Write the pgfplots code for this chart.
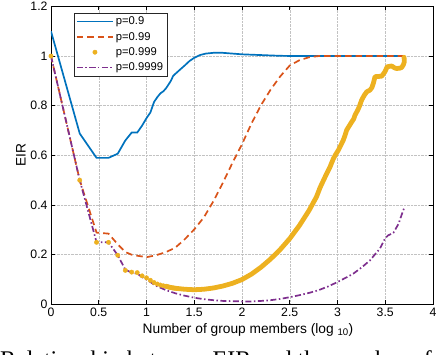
\documentclass[border=0pt]{standalone}
\usepackage{fontspec}
\setmainfont{Liberation Sans}
\newfontfamily\capfont{Liberation Serif}
\usepackage{pgfplots}
\pgfplotsset{compat=1.18}
\usetikzlibrary{calc}
\definecolor{mblue}{rgb}{0,0.447,0.741}
\definecolor{morange}{rgb}{0.85,0.325,0.098}
\definecolor{myellow}{rgb}{0.929,0.694,0.125}
\definecolor{mpurple}{rgb}{0.494,0.184,0.556}
\pgfplotsset{longlegend/.style={legend image code/.code={\draw[mark repeat=2,mark phase=2,##1] plot coordinates {(0bp,0bp) (18bp,0bp) (36bp,0bp)};}}}
\begin{document}
\begin{tikzpicture}
\begin{axis}[
  scale only axis, width=382bp, height=298bp,
  xmin=0, xmax=4, ymin=0, ymax=1.2,
  xtick={0,0.5,1,1.5,2,2.5,3,3.5,4},
  ytick={0,0.2,0.4,0.6,0.8,1,1.2},
  grid=major,
  grid style={densely dotted, black!24, line width=0.5pt},
  tick align=inside, major tick length=4bp,
  axis line style={black, line width=0.6pt},
  tick style={black, line width=0.6pt},
  ticklabel style={font=\fontsize{12.3}{14}\selectfont},
  label style={font=\fontsize{13.8}{16}\selectfont},
  xlabel={Number of group members (log \textsubscript{10})},
  xlabel style={xshift=6bp},
  ylabel={EIR},
  ylabel style={yshift=-2bp},
  /pgf/number format/assume math mode=true,
  legend style={at={(0.060,0.979)}, anchor=north west, draw=black!85, fill=white,
    font=\fontsize{11.3}{13}\selectfont, inner xsep=2bp, inner ysep=2bp, row sep=2bp},
  legend cell align=left,
  longlegend,
]
\addplot[color=mblue, line width=1.7pt] coordinates {
(0,1.10) (0.301,0.688) (0.477,0.59) (0.602,0.59) (0.699,0.607) (0.778,0.66)
(0.845,0.692) (0.903,0.692) (0.954,0.72) (1.0,0.75) (1.041,0.773) (1.079,0.815)
(1.114,0.835) (1.146,0.85) (1.176,0.858) (1.204,0.87) (1.230,0.885) (1.255,0.90)
(1.279,0.92) (1.301,0.928) (1.35,0.945) (1.40,0.962) (1.45,0.98) (1.50,0.993)
(1.56,1.004) (1.62,1.010) (1.70,1.013) (1.80,1.013) (1.90,1.010) (2.0,1.007)
(2.2,1.004) (2.4,1.001) (2.6,1.0) (3.69,1.0)
};
\addlegendentry{p=0.9}
\addplot[color=morange, line width=1.7pt, dash pattern=on 6.5bp off 4bp] coordinates {
(0,1.0) (0.301,0.50) (0.477,0.289) (0.602,0.285) (0.699,0.242) (0.778,0.211)
(0.845,0.200) (0.903,0.196) (0.954,0.193) (1.0,0.19) (1.1,0.198) (1.2,0.21)
(1.3,0.228) (1.4,0.262) (1.5,0.302) (1.6,0.35) (1.7,0.415) (1.8,0.49) (1.9,0.57)
(2.0,0.645) (2.1,0.729) (2.2,0.803) (2.3,0.865) (2.4,0.918) (2.5,0.962)
(2.6,0.983) (2.7,0.995) (2.8,1.0) (3.69,1.0)
};
\addlegendentry{p=0.99}
\addplot[color=myellow, only marks, mark=*, mark size=2.2pt, longlegend] coordinates {
(0,1.0) (0.301,0.50) (0.477,0.25) (0.602,0.25) (0.699,0.198) (0.778,0.137)
(0.845,0.13) (0.903,0.128) (0.954,0.115) (1.0,0.107) (1.041,0.097) (1.079,0.088)
(1.114,0.082) (1.146,0.078) (1.176,0.075) (1.204,0.073) (1.230,0.07) (1.255,0.068)
(1.279,0.066) (1.301,0.065)
};
\addlegendentry{p=0.999}
\addplot[color=myellow, line width=4.8pt, line cap=round, line join=round, forget plot] coordinates {
(1.204,0.073) (1.255,0.068) (1.301,0.065) (1.4,0.061) (1.5,0.059) (1.6,0.061)
(1.7,0.066) (1.8,0.074) (1.9,0.085) (2.0,0.100) (2.1,0.122) (2.2,0.150)
(2.3,0.183) (2.4,0.221) (2.5,0.265) (2.6,0.317) (2.7,0.377) (2.78,0.433)
(2.817,0.470) (2.85,0.497) (2.887,0.527) (2.92,0.552) (2.957,0.587) (2.98,0.603)
(3.009,0.621) (3.04,0.645) (3.06,0.661) (3.08,0.682) (3.096,0.702) (3.12,0.717)
(3.149,0.735) (3.17,0.747) (3.183,0.762) (3.21,0.781) (3.228,0.796) (3.253,0.823)
(3.28,0.842) (3.306,0.856) (3.34,0.863) (3.36,0.873) (3.375,0.89) (3.393,0.917)
(3.43,0.918) (3.463,0.919) (3.497,0.937) (3.52,0.957) (3.567,0.96) (3.60,0.952)
(3.62,0.95) (3.65,0.951) (3.672,0.954) (3.69,0.965) (3.70,0.977) (3.697,0.995)
};
\addplot[color=mpurple, line width=1.7pt, dash pattern=on 6bp off 2.5bp on 1.5bp off 2.5bp] coordinates {
(0,1.0) (0.301,0.50) (0.477,0.25) (0.602,0.25) (0.699,0.198) (0.778,0.14)
(0.845,0.128) (0.903,0.124) (0.954,0.11) (1.0,0.10) (1.041,0.09) (1.079,0.08)
(1.1,0.075) (1.2,0.058) (1.3,0.045) (1.4,0.035) (1.5,0.027) (1.6,0.021)
(1.7,0.017) (1.8,0.014) (1.9,0.013) (2.0,0.012) (2.1,0.012) (2.2,0.014)
(2.3,0.017) (2.4,0.022) (2.5,0.029) (2.6,0.037) (2.7,0.046) (2.8,0.057)
(2.9,0.072) (3.0,0.09) (3.1,0.11) (3.166,0.124) (3.25,0.148) (3.34,0.177)
(3.40,0.205) (3.445,0.225) (3.497,0.265) (3.53,0.278) (3.585,0.288) (3.64,0.325)
(3.67,0.359) (3.70,0.39)
};
\addlegendentry{p=0.9999}
\end{axis}
\node[anchor=base west, inner sep=0pt, font=\capfont\fontsize{24}{28}\selectfont]
  at ($(current axis.south west)+(-51bp,-63bp)$) {Relationship between EIR and the number of};
\pgfresetboundingbox
\path ($(current axis.south west)+(-51bp,-50bp)$) rectangle ($(current axis.north east)+(7bp,6.4bp)$);
\end{tikzpicture}
\end{document}
